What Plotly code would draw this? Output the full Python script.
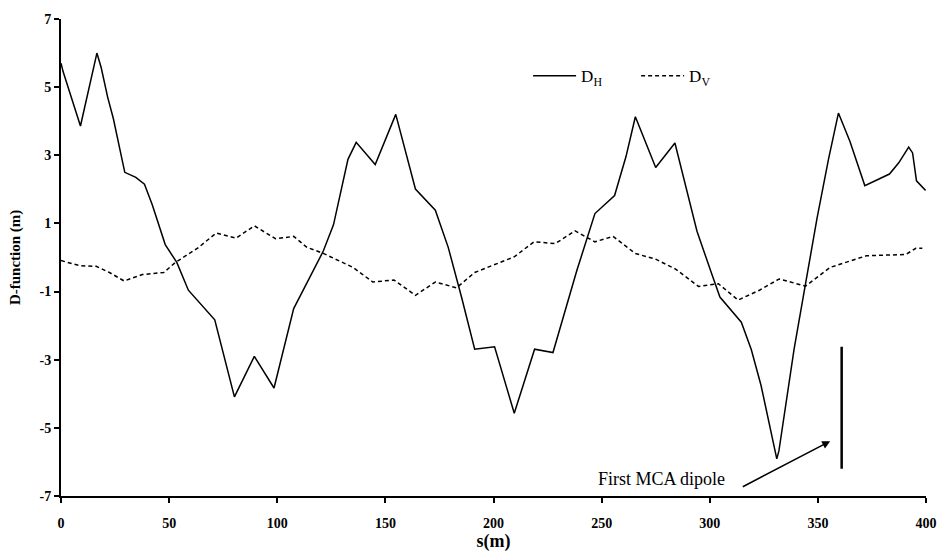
import plotly.graph_objects as go

# D_H (horizontal dispersion-like D function)
s_h = [0, 1, 9, 16.6, 18.6, 21.6, 24.2, 29.5, 34.6, 38.6, 42.2, 48.2, 53.6, 58.9,
       71.1, 72.6, 80.2, 89.4, 98.5, 107.6, 115.2, 121.3, 126, 132.7, 136.5, 145.3,
       154.8, 163.9, 173.1, 179.1, 185.2, 191.3, 200.5, 209.6, 219, 227.5, 238.5,
       246.9, 256, 261.3, 265.6, 275, 283.9, 294.1, 300.9, 304.7, 314.6, 319.2,
       323.7, 328.3, 331, 332, 335.9, 339, 344.3, 349.6, 354.9, 359.5, 364.8,
       371.7, 383.1, 387.4, 392, 393.8, 395.6, 399.8]
d_h = [5.7, 5.45, 3.86, 6.0, 5.57, 4.7, 4.08, 2.5, 2.35, 2.15, 1.55, 0.38, -0.15, -0.96,
       -1.83, -2.21, -4.09, -2.9, -3.83, -1.5, -0.55, 0.19, 0.96, 2.88, 3.38, 2.73,
       4.2, 2.01, 1.39, 0.29, -1.16, -2.69, -2.62, -4.57, -2.69, -2.79, -0.39,
       1.29, 1.82, 2.97, 4.13, 2.64, 3.36, 0.77, -0.48, -1.16, -1.9, -2.7,
       -3.75, -5.1, -5.91, -5.67, -3.94, -2.69, -0.77, 1.15, 2.88, 4.24, 3.41,
       2.11, 2.45, 2.78, 3.24, 3.07, 2.25, 1.97]

# D_V
s_v = [0, 8.7, 16.3, 22.4, 29.2, 37.6, 47.5, 52.8, 63.5, 71.8, 81, 89.4, 99.2, 107.6,
       113.7, 121.3, 135, 144.2, 154, 163.9, 173.1, 182.9, 191.3, 200.5, 209.6, 218.7,
       228.6, 237.7, 246.9, 255.3, 265.5, 275, 284.2, 294.8, 304, 313.1, 323, 332.1,
       344.3, 355.7, 372.4, 390.7, 395.3, 398.3]
d_v = [-0.09, -0.24, -0.26, -0.44, -0.69, -0.5, -0.44, -0.15, 0.29, 0.72, 0.57, 0.93, 0.55, 0.62,
       0.3, 0.12, -0.29, -0.72, -0.66, -1.11, -0.72, -0.89, -0.44, -0.2, 0.02, 0.46,
       0.41, 0.78, 0.46, 0.62, 0.12, -0.05, -0.34, -0.85, -0.77, -1.25, -0.96, -0.63,
       -0.84, -0.29, 0.05, 0.09, 0.27, 0.27]

x_ticks = [0, 50, 100, 150, 200, 250, 300, 350, 400]
y_ticks = [-7, -5, -3, -1, 1, 3, 5, 7]
y_ticktext = ["-7", "-5", "-3", "-1", "1", "3", "5", "7"]

dipole_s = 361
dipole_top, dipole_bottom = -2.62, -6.2

serif = "Liberation Serif, Times New Roman, serif"

fig = go.Figure()
fig.add_trace(go.Scatter(x=s_h, y=d_h, mode="lines", name="D<sub>H</sub>",
                         line=dict(color="black", width=1.5)))
fig.add_trace(go.Scatter(x=s_v, y=d_v, mode="lines", name="D<sub>V</sub>",
                         line=dict(color="black", width=1.5, dash="4px,3px")))

fig.add_shape(type="line", x0=dipole_s, x1=dipole_s, y0=dipole_top, y1=dipole_bottom,
              xref="x", yref="y", line=dict(color="black", width=2.5))

fig.add_annotation(x=308, y=-6.5, xref="x", yref="y", text="First MCA dipole",
                   showarrow=False, xanchor="right", yanchor="middle",
                   font=dict(family=serif, size=18, color="black"))
fig.add_annotation(x=355.7, y=-5.39, ax=314.6, ay=-6.75, xref="x", yref="y",
                   axref="x", ayref="y", text="", showarrow=True,
                   arrowhead=2, arrowsize=1, arrowwidth=1.6, arrowcolor="black")
fig.add_annotation(x=-0.0525, y=0.5, xref="paper", yref="paper", text="<b>D-function (m)</b>",
                   textangle=-90, showarrow=False, xanchor="center", yanchor="middle",
                   font=dict(family=serif, size=15, color="black"))

fig.update_layout(
    width=949, height=559,
    margin=dict(l=61, r=12, t=17, b=56),
    paper_bgcolor="white", plot_bgcolor="white",
    font=dict(family=serif, color="black"),
    showlegend=True,
    legend=dict(orientation="h", x=0.54, y=0.88, xanchor="left", yanchor="middle",
                font=dict(family=serif, size=17, color="black"), itemwidth=43,
                bgcolor="rgba(0,0,0,0)", entrywidth=50, entrywidthmode="pixels"),
    xaxis=dict(range=[0, 400], tickvals=x_ticks, showgrid=False, zeroline=False,
               showline=True, linecolor="black", linewidth=2, ticks="outside",
               ticklen=5, tickwidth=1.5, tickcolor="black", ticklabelstandoff=8,
               tickfont=dict(family=serif, size=14, color="black", weight="bold"),
               title=dict(text="<b>s(m)</b>", standoff=4,
                          font=dict(family=serif, size=18, color="black"))),
    yaxis=dict(range=[-7, 7], tickvals=y_ticks, ticktext=y_ticktext, showgrid=False,
               zeroline=False, showline=True, linecolor="black", linewidth=2,
               ticks="outside", ticklen=5, tickwidth=1.5, tickcolor="black",
               tickfont=dict(family=serif, size=14, color="black", weight="bold")),
)

fig.write_html("out.html")
